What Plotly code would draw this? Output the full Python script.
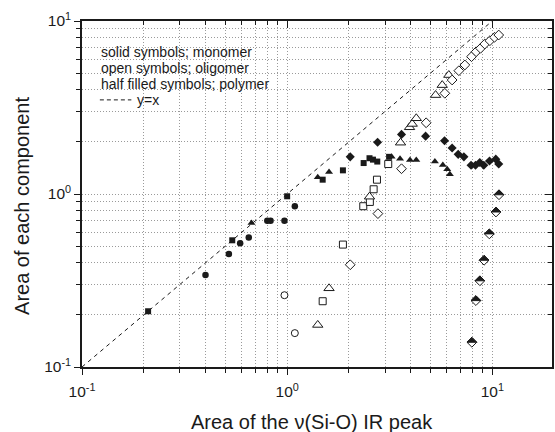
import math
import plotly.graph_objects as go

# ---------------- data ----------------
# solid symbols: monomer
circ_x = [0.40, 0.52, 0.59, 0.65, 0.80, 0.83, 0.97, 1.09]
circ_y = [0.34, 0.45, 0.52, 0.56, 0.70, 0.70, 0.70, 0.85]
sq_x = [0.21, 0.54, 1.00, 1.49, 1.87, 2.36, 2.52, 2.62, 2.75, 3.14]
sq_y = [0.21, 0.54, 0.97, 1.21, 1.37, 1.51, 1.61, 1.58, 1.54, 1.64]
tri_x = [0.67, 1.41, 1.60, 3.23, 3.55, 3.97, 4.26, 5.25, 5.74, 6.03, 6.21]
tri_y = [0.68, 1.25, 1.34, 1.64, 1.60, 1.57, 1.57, 1.54, 1.47, 1.39, 1.30]
dia_x = [2.03, 2.76, 3.61, 4.73, 5.85, 6.37, 6.82, 7.27, 7.88, 8.28, 8.69, 9.09, 9.69, 10.4, 10.75]
dia_y = [1.64, 1.99, 2.21, 2.16, 2.03, 1.845, 1.695, 1.64, 1.465, 1.465, 1.52, 1.465, 1.55, 1.59, 1.49]

# open symbols: oligomer
circ_open_x = [0.97, 1.09]
circ_open_y = [0.26, 0.157]
sq_open_x = [1.49, 1.87, 2.35, 2.53, 2.64, 2.74, 3.11]
sq_open_y = [0.24, 0.51, 0.85, 0.90, 1.065, 1.21, 1.49]
tri_open_x = [1.41, 1.60, 2.52, 3.57, 3.95, 4.07, 4.26, 5.29, 5.70, 6.14]
tri_open_y = [0.175, 0.285, 0.965, 1.98, 2.43, 2.54, 2.74, 3.73, 4.26, 4.87]
dia_open_x = [2.03, 2.77, 3.61, 4.76, 5.87, 6.37, 6.87, 7.35, 7.92, 8.34, 8.76, 9.19, 9.73, 10.25, 10.75]
dia_open_y = [0.39, 0.77, 1.40, 2.58, 3.82, 4.56, 5.16, 5.57, 6.22, 6.64, 6.95, 7.36, 7.69, 8.05, 8.30]

# half filled symbols: polymer
dia_half_x = [7.95, 8.32, 8.70, 9.12, 9.67, 10.42, 10.78]
dia_half_y = [0.139, 0.242, 0.315, 0.414, 0.588, 0.787, 0.99]

# y = x reference line
ref_x = [0.1, 10]
ref_y = [0.1, 10]

major_vals = [0.1, 1, 10]
major_text = ["10<sup>-1</sup>", "10<sup>0</sup>", "10<sup>1</sup>"]
x_minor = [m * 10 ** e for e in (-1, 0) for m in range(2, 10)]
y_minor = [m * 10 ** e for e in (-1, 0) for m in range(2, 10)]

legend_lines = ["solid symbols; monomer", "open symbols; oligomer",
                "half filled symbols; polymer"]
legend_ref_label = "y=x"

x_title = "Area of the ν(Si-O) IR peak"
y_title = "Area of each component"

# ---------------- styling ----------------
INK = "#1a1a1a"
GRID = "#9a9a9a"
GDASH = "1px,2px"
FONT = "Liberation Sans, Arial, sans-serif"
XR = [-1, 1.291]
YR = [-1, 1]

fig = go.Figure()


def add(x, y, symbol, size, filled, lw=1.0):
    fig.add_trace(go.Scatter(
        x=x, y=y, mode="markers", hoverinfo="skip",
        marker=dict(symbol=symbol, size=size,
                    color=INK if filled else "white",
                    line=dict(color=INK, width=0 if filled else lw))))


add(circ_x, circ_y, "circle", 6.5, True)
add(sq_x, sq_y, "square", 6, True)
add(tri_x, tri_y, "triangle-up", 7, True)
add(dia_x, dia_y, "diamond", 7, True)
add(circ_open_x, circ_open_y, "circle", 7, False)
add(sq_open_x, sq_open_y, "square", 7, False)
add(tri_open_x, tri_open_y, "triangle-up", 9, False)
add(dia_open_x, dia_open_y, "diamond", 7.5, False)
add(dia_half_x, dia_half_y, "diamond", 7.5, False)

# filled upper halves of the half-filled diamonds, anchored at the data points
rd = 1.3 * 7.5 / 2
shapes = []
for hx, hy in zip(dia_half_x, dia_half_y):
    shapes.append(dict(
        type="path", xref="x", yref="y", xsizemode="pixel", ysizemode="pixel",
        xanchor=hx, yanchor=hy,
        path=f"M{-rd:.2f},0 L0,{rd:.2f} L{rd:.2f},0 Z",
        fillcolor=INK, line=dict(color=INK, width=1), layer="above"))

# white box behind the text legend
shapes.append(dict(type="rect", xref="paper", yref="paper", x0=0.002, x1=0.409,
                   y0=0.72, y1=0.972, fillcolor="white", line=dict(width=0),
                   layer="between"))

# dashed sample for the legend
shapes.append(dict(type="line", xref="paper", yref="paper", x0=0.038, x1=0.105,
                   y0=0.772, y1=0.772, line=dict(color=INK, width=1, dash="4px,3px"),
                   layer="above"))

# y = x line (drawn on the overlay axes, same ranges)
fig.add_trace(go.Scatter(x=ref_x, y=ref_y, mode="lines", hoverinfo="skip",
                         xaxis="x2", yaxis="y2",
                         line=dict(color=INK, width=1, dash="4px,4px")))

axis_common = dict(type="log", showline=True, linecolor=INK, linewidth=1.5,
                   zeroline=False, tickvals=major_vals, ticktext=major_text,
                   tickfont=dict(size=15.5, color=INK, family=FONT),
                   tickcolor=INK, tickwidth=1)

fig.update_layout(
    width=555, height=432,
    margin=dict(l=82, r=1, t=21, b=65),
    paper_bgcolor="white", plot_bgcolor="white",
    showlegend=False,
    font=dict(family=FONT, color=INK),
    shapes=shapes,
    xaxis=dict(**axis_common, range=XR, ticks="outside", ticklen=6, mirror=True,
               ticklabelstandoff=4,
               showgrid=True, gridcolor=GRID, griddash=GDASH, gridwidth=1,
               minor=dict(tickvals=x_minor, ticks="outside", ticklen=4,
                          tickcolor=INK, showgrid=True, gridcolor=GRID,
                          griddash=GDASH, gridwidth=1)),
    yaxis=dict(**axis_common, range=YR, ticks="outside", ticklen=6, mirror=True,
               showgrid=True, gridcolor=GRID, griddash=GDASH, gridwidth=1,
               minor=dict(tickvals=y_minor, ticks="outside", ticklen=4,
                          tickcolor=INK, showgrid=True, gridcolor=GRID,
                          griddash=GDASH, gridwidth=1)),
    xaxis2=dict(type="log", range=XR, overlaying="x", side="top", anchor="y2",
                tickvals=major_vals, ticks="inside", ticklen=7, tickcolor=INK,
                showticklabels=False, showgrid=False, showline=False, zeroline=False,
                minor=dict(tickvals=x_minor, ticks="inside", ticklen=4, tickcolor=INK,
                           showgrid=False)),
    yaxis2=dict(type="log", range=YR, overlaying="y", side="right", anchor="x2",
                tickvals=major_vals, ticks="inside", ticklen=7, tickcolor=INK,
                showticklabels=False, showgrid=False, showline=False, zeroline=False,
                minor=dict(tickvals=y_minor, ticks="inside", ticklen=4, tickcolor=INK,
                           showgrid=False)),
)

annotations = []
for i, txt in enumerate(legend_lines):
    annotations.append(dict(xref="paper", yref="paper", x=0.036, y=0.911 - i * 0.0463,
                            text=txt, showarrow=False, xanchor="left", yanchor="middle",
                            font=dict(size=14, color=INK, family=FONT)))
annotations.append(dict(xref="paper", yref="paper", x=0.112, y=0.772,
                        text=legend_ref_label, showarrow=False, xanchor="left",
                        yanchor="middle", font=dict(size=14, color=INK, family=FONT)))
annotations.append(dict(xref="paper", yref="paper", x=0.489, y=-0.158, text=x_title,
                        showarrow=False, xanchor="center", yanchor="middle",
                        font=dict(size=20, color=INK, family=FONT)))
annotations.append(dict(xref="paper", yref="paper", x=-0.128, y=0.465, text=y_title,
                        showarrow=False, xanchor="center", yanchor="middle",
                        textangle=-90, font=dict(size=20, color=INK, family=FONT)))
fig.update_layout(annotations=annotations)

fig.write_html("out.html")
